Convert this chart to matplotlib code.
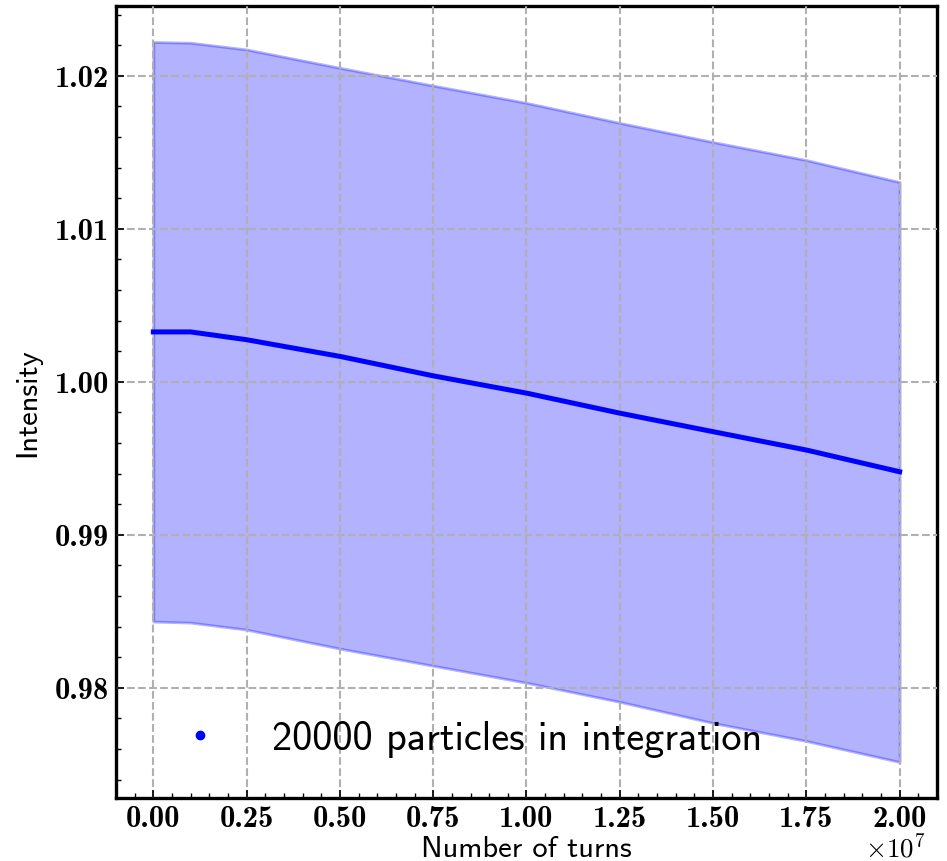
import matplotlib
matplotlib.use("Agg")
import matplotlib.pyplot as plt
from matplotlib.lines import Line2D
from matplotlib.ticker import AutoMinorLocator, MultipleLocator, FuncFormatter
import numpy as np

# Values (turns, intensity)
turns = [0.0, 0.1e7, 0.25e7, 0.5e7, 0.75e7, 1.0e7, 1.25e7, 1.5e7, 1.75e7, 2.0e7]
mean_int = [1.00326, 1.00326, 1.00275, 1.00166, 1.00039, 0.99926, 0.99795, 0.99674, 0.99554, 0.99412]
upper_int = [1.02221, 1.02216, 1.02172, 1.02052, 1.01936, 1.01823, 1.01692, 1.01567, 1.01449, 1.01305]
lower_int = [0.98433, 0.98426, 0.98380, 0.98256, 0.98144, 0.98033, 0.97908, 0.97770, 0.97652, 0.97515]
legend_label = "20000 particles in integration"

plt.rcParams['mathtext.fontset'] = 'cm'

fig = plt.figure(figsize=(9.47, 8.62), dpi=100)
ax = fig.add_axes([0.1225, 0.0731, 0.8669, 0.9188])

# Band and mean
ax.fill_between(turns, lower_int, upper_int, color='blue', alpha=0.3, linewidth=2)
ax.plot(turns, mean_int, color='blue', linewidth=3.6, zorder=3)

# Axes styling
for sp in ax.spines.values():
    sp.set_linewidth(2.4)
ax.grid(True, linestyle='--', color='#b0b0b0', linewidth=1.5)
ax.set_axisbelow(False)
ax.xaxis.set_major_locator(MultipleLocator(0.25e7))
ax.set_yticks([0.98, 0.99, 1.00, 1.01, 1.02])
ax.xaxis.set_minor_locator(AutoMinorLocator(5))
ax.yaxis.set_minor_locator(AutoMinorLocator(5))
ax.tick_params(which='both', direction='in', top=False, right=False)
ax.tick_params(which='major', length=6, width=1.2, labelsize=22, labelfontfamily='cmb10', pad=5)
ax.tick_params(which='minor', length=3.5, width=1.0)

ax.xaxis.set_major_formatter(FuncFormatter(lambda v, p: f"{v / 1e7:.2f}"))
ax.yaxis.set_major_formatter(plt.FormatStrFormatter('%.2f'))
ax.text(0.986, -0.044, r'$\times10^{7}$', transform=ax.transAxes,
        ha='right', va='top', fontsize=19.5)

ax.set_xlabel('Number of turns', fontfamily='cmss10', fontsize=22, labelpad=2)
ax.set_ylabel('Intensity', fontfamily='cmss10', fontsize=22, labelpad=10)

handle = Line2D([], [], color='blue', marker='o', markersize=6, linestyle='none')
ax.legend([handle], [legend_label], loc='lower left', bbox_to_anchor=(0.009, 0.006),
          frameon=False, prop={'family': 'cmss10', 'size': 29})

fig.savefig('out.png', dpi=100)
